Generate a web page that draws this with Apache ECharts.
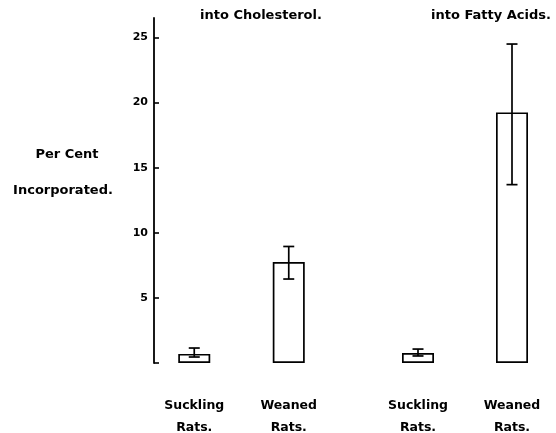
<!DOCTYPE html>
<html>
<head>
<meta charset="utf-8">
<script src="https://cdn.jsdelivr.net/npm/echarts@6/dist/echarts.min.js"></script>
<style>html,body{margin:0;padding:0;background:#fff;}#c{width:556px;height:433px;}</style>
</head>
<body>
<div id="c"></div>
<script>
const categories = ['Suckling\nRats.', 'Weaned\nRats.'];
const groupTitles = ['into Cholesterol.', 'into Fatty Acids.'];
const cholMean = [0.7, 7.75];
const cholLow = [0.46, 6.45];
const cholHigh = [1.15, 8.95];
const faMean = [0.77, 19.25];
const faLow = [0.54, 13.7];
const faHigh = [1.07, 24.5];
const yTicks = [0, 5, 10, 15, 20, 25];
const yLabelValues = [5, 10, 15, 20, 25];
const yAxisTitle = ['Per Cent', 'Incorporated.'];

const FONT = 'DejaVu Sans';
const chart = echarts.init(document.getElementById('c'), null, {renderer: 'canvas'});

function errData(low, high) {
  return categories.map((c, i) => [i, low[i], high[i]]);
}
function errRender(params, api) {
  const x = api.value(0);
  const lo = api.coord([x, api.value(1)]);
  const hi = api.coord([x, api.value(2)]);
  const cap = 5.5;
  const style = {stroke: '#000', lineWidth: 1.7, fill: null};
  return {
    type: 'group',
    children: [
      {type: 'line', shape: {x1: lo[0], y1: lo[1], x2: hi[0], y2: hi[1]}, style},
      {type: 'line', shape: {x1: lo[0] - cap, y1: lo[1], x2: lo[0] + cap, y2: lo[1]}, style},
      {type: 'line', shape: {x1: hi[0] - cap, y1: hi[1], x2: hi[0] + cap, y2: hi[1]}, style}
    ]
  };
}

const yMax = 26.5;
const xAxisCommon = {
  type: 'category',
  data: categories,
  axisLine: {show: false},
  axisTick: {show: false},
  axisLabel: {
    color: '#000', fontFamily: FONT, fontWeight: 'bold', fontSize: 12.5,
    lineHeight: 22, margin: 32
  }
};
const barCommon = {
  type: 'bar',
  barWidth: 32,
  itemStyle: {color: '#fff', borderColor: '#000', borderWidth: 1.7},
  silent: true
};
function label(text, x, y) {
  return {
    type: 'text', x: x, y: y, silent: true,
    style: {text: text, fill: '#000', font: 'bold 13px "DejaVu Sans"',
            align: 'center', verticalAlign: 'middle'}
  };
}

chart.setOption({
  animation: false,
  backgroundColor: '#fff',
  graphic: [
    label(groupTitles[0], 261, 16),
    label(groupTitles[1], 491, 16),
    label(yAxisTitle[0], 67, 155),
    label(yAxisTitle[1], 63, 191)
  ],
  grid: [
    {left: 147, width: 189, top: 18, bottom: 70, outerBoundsMode: 'none'},
    {left: 371, width: 188, top: 18, bottom: 70, outerBoundsMode: 'none'}
  ],
  xAxis: [
    Object.assign({gridIndex: 0}, xAxisCommon),
    Object.assign({gridIndex: 1}, xAxisCommon)
  ],
  yAxis: [
    {
      gridIndex: 0, type: 'value', min: 0, max: yMax, offset: -7,
      splitLine: {show: false},
      axisLine: {show: true, lineStyle: {color: '#000', width: 1.8}},
      axisTick: {show: true, inside: true, length: 5, customValues: yTicks,
                 lineStyle: {color: '#000', width: 1.6}},
      axisLabel: {customValues: yLabelValues, color: '#000', fontFamily: FONT,
                  fontWeight: 'bold', fontSize: 11, margin: 6}
    },
    {
      gridIndex: 1, type: 'value', min: 0, max: yMax, show: false,
      splitLine: {show: false}
    }
  ],
  series: [
    Object.assign({xAxisIndex: 0, yAxisIndex: 0, data: cholMean}, barCommon),
    Object.assign({xAxisIndex: 1, yAxisIndex: 1, data: faMean}, barCommon),
    {type: 'custom', xAxisIndex: 0, yAxisIndex: 0, renderItem: errRender,
     data: errData(cholLow, cholHigh), z: 5, silent: true},
    {type: 'custom', xAxisIndex: 1, yAxisIndex: 1, renderItem: errRender,
     data: errData(faLow, faHigh), z: 5, silent: true}
  ]
});
</script>
</body>
</html>
